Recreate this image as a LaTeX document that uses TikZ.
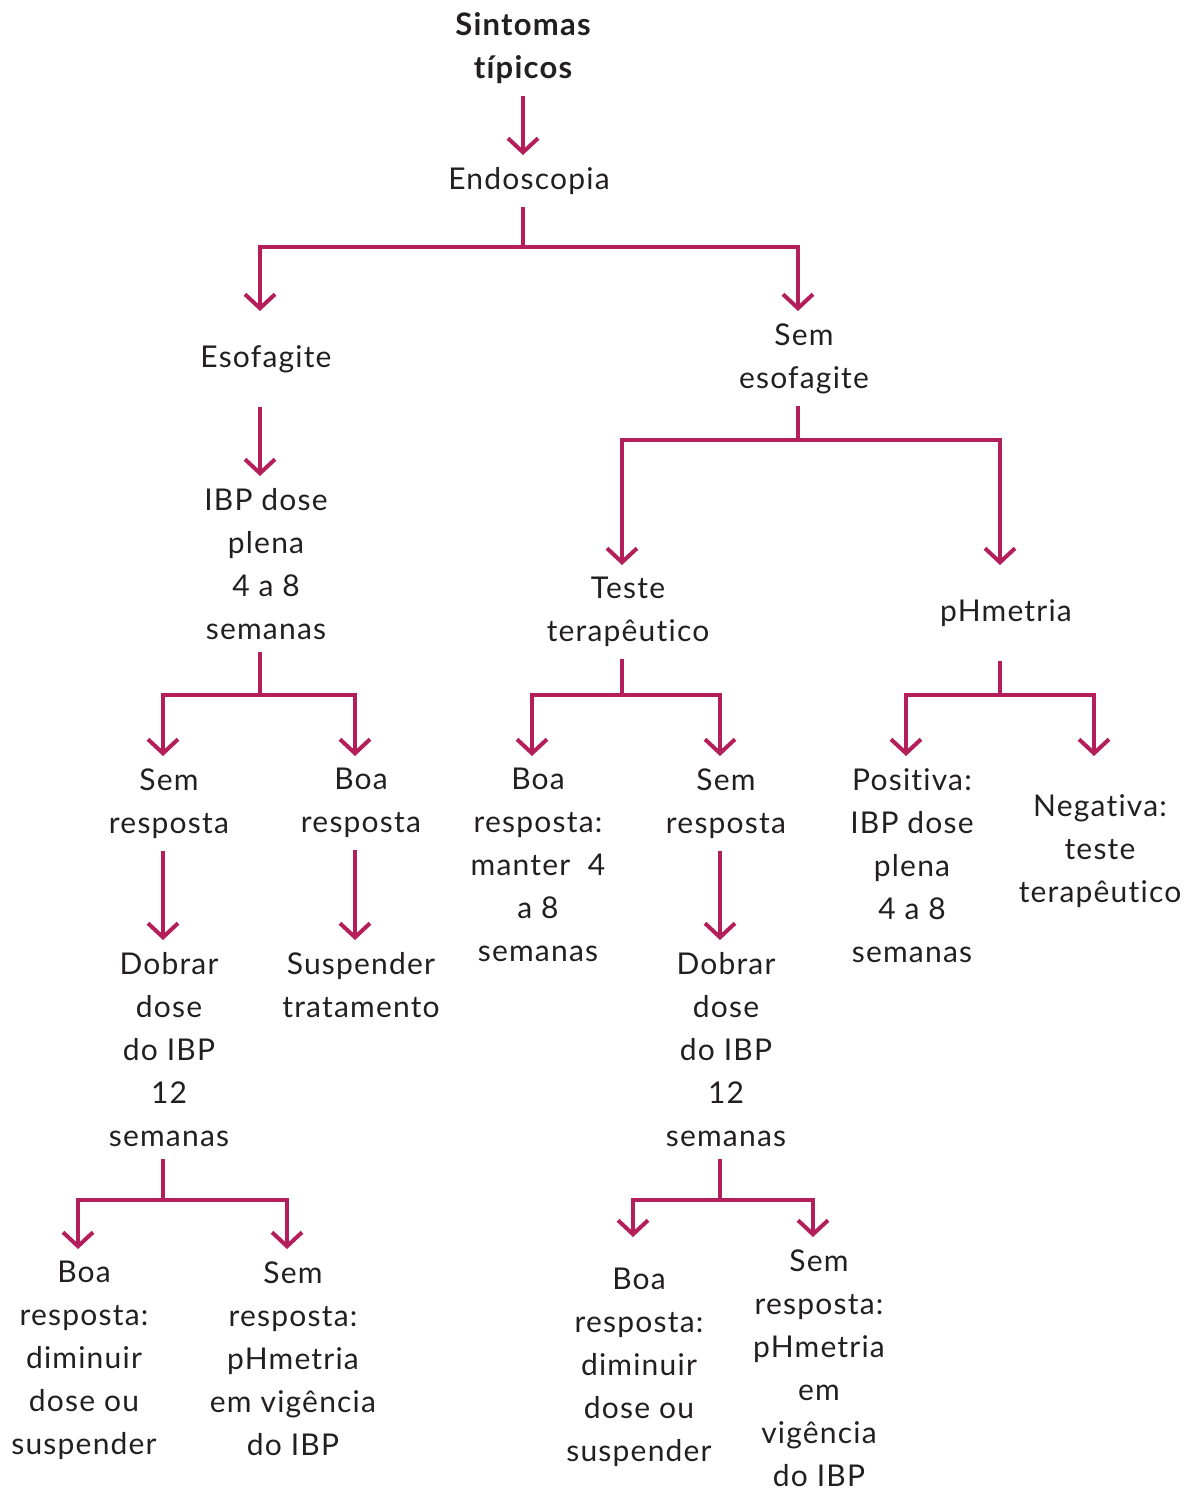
\documentclass[tikz,border=0pt]{standalone}
\usepackage{fontspec}
\setmainfont{Lato}[LetterSpace=4,Ligatures=NoCommon]
\usetikzlibrary{arrows.meta,positioning}
\definecolor{berry}{RGB}{180,30,90}
\definecolor{ink}{RGB}{35,31,32}
\tikzset{
txt/.style={anchor=north,align=center,inner xsep=0pt,inner ysep=6pt,text=ink,font=\fontsize{15}{21.5}\selectfont},
headline/.style={txt,font=\fontsize{15.5}{21.5}\selectfont\bfseries},
link/.style={draw=berry,line width=2pt},
flow/.style={link,-{Straight Barb[length=7pt,width=15pt]}}
}
\begin{document}
\begin{tikzpicture}[x=0.5pt,y=-0.5pt]
\path[use as bounding box](0,0)rectangle(1185,1490);
\node[headline](sint)at(523,0){Sintomas\\típicos};
\node[txt](endo)at(529,155){Endoscopia};
\node[txt,minimum height=47.5pt](esof)at(266,311){Esofagite};
\node[txt](semes)at(804,311){Sem\\esofagite};
\node[txt](ibp)at(266,476){IBP dose\\plena\\4 a 8\\semanas};
\node[txt](teste)at(628,565){Teste\\terapêutico};
\node[txt,minimum height=47.5pt](phm)at(1006,565){pHmetria};
\node[txt](semr1)at(169,756){Sem\\resposta};
\node[txt](boar1)at(361,756){Boa\\resposta};
\node[txt](boam)at(538,756){Boa\\resposta:\\manter~ 4\\a 8\\semanas};
\node[txt](semr2)at(726,756){Sem\\resposta};
\node[txt](posit)at(912,756){Positiva:\\IBP dose\\plena\\4 a 8\\semanas};
\node[txt,minimum height=95pt](negat)at(1100,756){Negativa:\\teste\\terapêutico};
\node[txt](dob1)at(169,940){Dobrar\\dose\\do IBP\\12\\semanas};
\node[txt](susp)at(361,940){Suspender\\tratamento};
\node[txt](dob2)at(726,940){Dobrar\\dose\\do IBP\\12\\semanas};
\node[txt](boad1)at(84,1249){Boa\\resposta:\\diminuir\\dose ou\\suspender};
\node[txt](semp1)at(293,1249){Sem\\resposta:\\pHmetria\\em vigência\\do IBP};
\node[txt,minimum height=130.4pt](boad2)at(639,1237){Boa\\resposta:\\diminuir\\dose ou\\suspender};
\node[txt](semp2)at(819,1237){Sem\\resposta:\\pHmetria\\em\\vigência\\do IBP};
\coordinate(j1)at(523,247);\coordinate(j2)at(798,440);\coordinate(j3)at(260,695);\coordinate(j4)at(622,695);
\coordinate(j5)at(1000,695);\coordinate(j6)at(163,1200);\coordinate(j7)at(720,1200);
\draw[flow](sint.south)--([xshift=-3pt]endo.north);
\draw[link]([xshift=-3pt]endo.south)--(j1);\draw[flow](j1)-|([xshift=-3pt]esof.north);\draw[flow](j1)-|([xshift=-3pt]semes.north);
\draw[flow]([xshift=-3pt]esof.south)--([xshift=-3pt]ibp.north);
\draw[link]([xshift=-3pt]semes.south)--(j2);\draw[flow](j2)-|([xshift=-3pt]teste.north);\draw[flow](j2)-|([xshift=-3pt]phm.north);
\draw[link]([xshift=-3pt]ibp.south)--(j3);\draw[flow](j3)-|([xshift=-3pt]semr1.north);\draw[flow](j3)-|([xshift=-3pt]boar1.north);
\draw[link]([xshift=-3pt]teste.south)--(j4);\draw[flow](j4)-|([xshift=-3pt]boam.north);\draw[flow](j4)-|([xshift=-3pt]semr2.north);
\draw[link]([xshift=-3pt]phm.south)--(j5);\draw[flow](j5)-|([xshift=-3pt]posit.north);\draw[flow](j5)-|([xshift=-3pt]negat.north);
\draw[flow]([xshift=-3pt]semr1.south)--([xshift=-3pt]dob1.north);
\draw[flow]([xshift=-3pt]boar1.south)--([xshift=-3pt]susp.north);
\draw[flow]([xshift=-3pt]semr2.south)--([xshift=-3pt]dob2.north);
\draw[link]([xshift=-3pt]dob1.south)--(j6);\draw[flow](j6)-|([xshift=-3pt]boad1.north);\draw[flow](j6)-|([xshift=-3pt]semp1.north);
\draw[link]([xshift=-3pt]dob2.south)--(j7);\draw[flow](j7)-|([xshift=-3pt]boad2.north);\draw[flow](j7)-|([xshift=-3pt]semp2.north);
\end{tikzpicture}
\end{document}
